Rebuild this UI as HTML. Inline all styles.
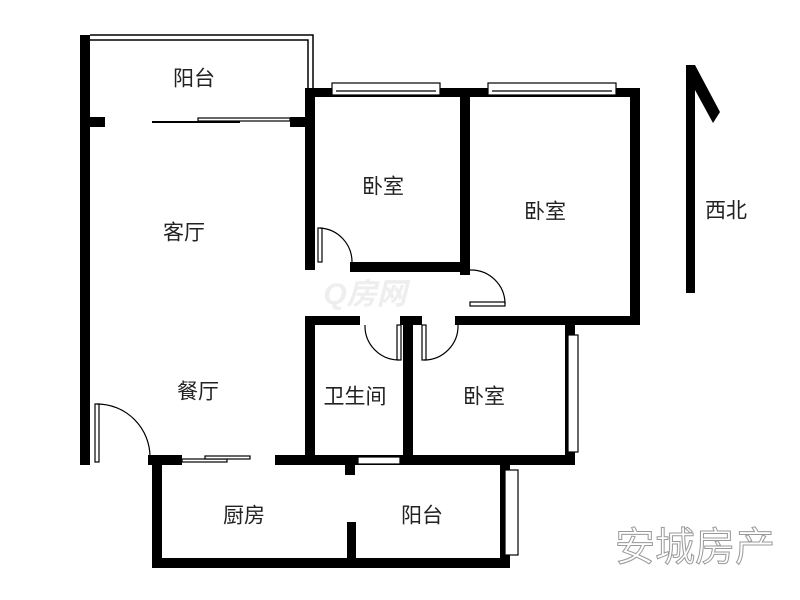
<!DOCTYPE html>
<html><head><meta charset="utf-8"><style>
html,body{margin:0;padding:0;background:#fff}
svg{display:block}
text{font-family:"Liberation Sans","Noto Sans CJK SC",sans-serif;font-size:21px;fill:#222;text-anchor:middle;dominant-baseline:middle}
</style></head><body>
<svg width="800" height="600" viewBox="0 0 800 600" xmlns="http://www.w3.org/2000/svg">
<rect width="800" height="600" fill="#fff"/>
<g fill="#000">
<rect x="80" y="35" width="10" height="430"/>
<rect x="90" y="117" width="15" height="10"/>
<rect x="290" y="117" width="15" height="10"/>
<rect x="305" y="88" width="10" height="182"/>
<rect x="305" y="88" width="335" height="9"/>
<rect x="460" y="88" width="10" height="187"/>
<rect x="630" y="88" width="10" height="237"/>
<rect x="350" y="262" width="120" height="10"/>
<rect x="455" y="316" width="185" height="9"/>
<rect x="305" y="316" width="10" height="149"/>
<rect x="305" y="316" width="55" height="9"/>
<rect x="400" y="316" width="22" height="9"/>
<rect x="403" y="316" width="10" height="149"/>
<rect x="565" y="325" width="10" height="140"/>
<rect x="80" y="455" width="10" height="10"/>
<rect x="148" y="455" width="34" height="10"/>
<rect x="275" y="455" width="300" height="10"/>
<rect x="345" y="465" width="10" height="10"/>
<rect x="152" y="462" width="10" height="106"/>
<rect x="152" y="558" width="358" height="10"/>
<rect x="500" y="465" width="10" height="103"/>
<rect x="347" y="522" width="9" height="40"/>
<rect x="686" y="65" width="9" height="228"/>
<polygon points="686,65 695,65 720,112 713,123 695,90"/>
</g>
<g fill="#fff" stroke="#000" stroke-width="1.2">
<path d="M90 35 H313 V92" fill="none" stroke-width="1.5"/>
<path d="M90 40 H308 V92" fill="none" stroke-width="1.5"/>
<rect x="332" y="83" width="108" height="12"/>
<line x1="336" y1="91" x2="436" y2="91"/>
<rect x="488" y="83" width="128" height="12"/>
<line x1="492" y1="91" x2="612" y2="91"/>
<rect x="568" y="335" width="10" height="117"/>
<rect x="505" y="470" width="13" height="85"/>
<rect x="358" y="457" width="42" height="7"/>
<line x1="152" y1="122" x2="240" y2="122" stroke-width="2"/>
<rect x="198" y="118" width="92" height="3"/>
<rect x="182" y="459" width="45" height="3"/>
<rect x="205" y="456" width="45" height="3"/>
<rect x="318" y="228" width="4" height="34"/>
<path d="M320 228 A34 34 0 0 1 352 262" fill="none"/>
<rect x="470" y="302" width="35" height="4"/>
<path d="M470 270 A34 34 0 0 1 505 304" fill="none"/>
<rect x="397" y="325" width="4" height="35"/>
<path d="M365 325 A34 34 0 0 0 399 360" fill="none"/>
<rect x="422" y="325" width="4" height="35"/>
<path d="M458 325 A34 34 0 0 1 424 360" fill="none"/>
<rect x="95" y="404" width="4" height="58"/>
<path d="M97 404 A53 53 0 0 1 150 457" fill="none"/>
</g>
<text x="194" y="80">阳台</text>
<text x="184" y="234">客厅</text>
<text x="383" y="188">卧室</text>
<text x="545" y="213">卧室</text>
<text x="198" y="393">餐厅</text>
<text x="355" y="398">卫生间</text>
<text x="484" y="398">卧室</text>
<text x="244" y="517">厨房</text>
<text x="422" y="517">阳台</text>
<text x="726" y="212">西北</text>
<text x="365" y="296" style="font-size:30px;fill:#eee;font-style:italic;font-weight:bold">Q房网</text>
<text x="695" y="550" style="font-size:40px;fill:#fff;stroke:#999;stroke-width:1">安城房产</text>
</svg>
</body></html>
